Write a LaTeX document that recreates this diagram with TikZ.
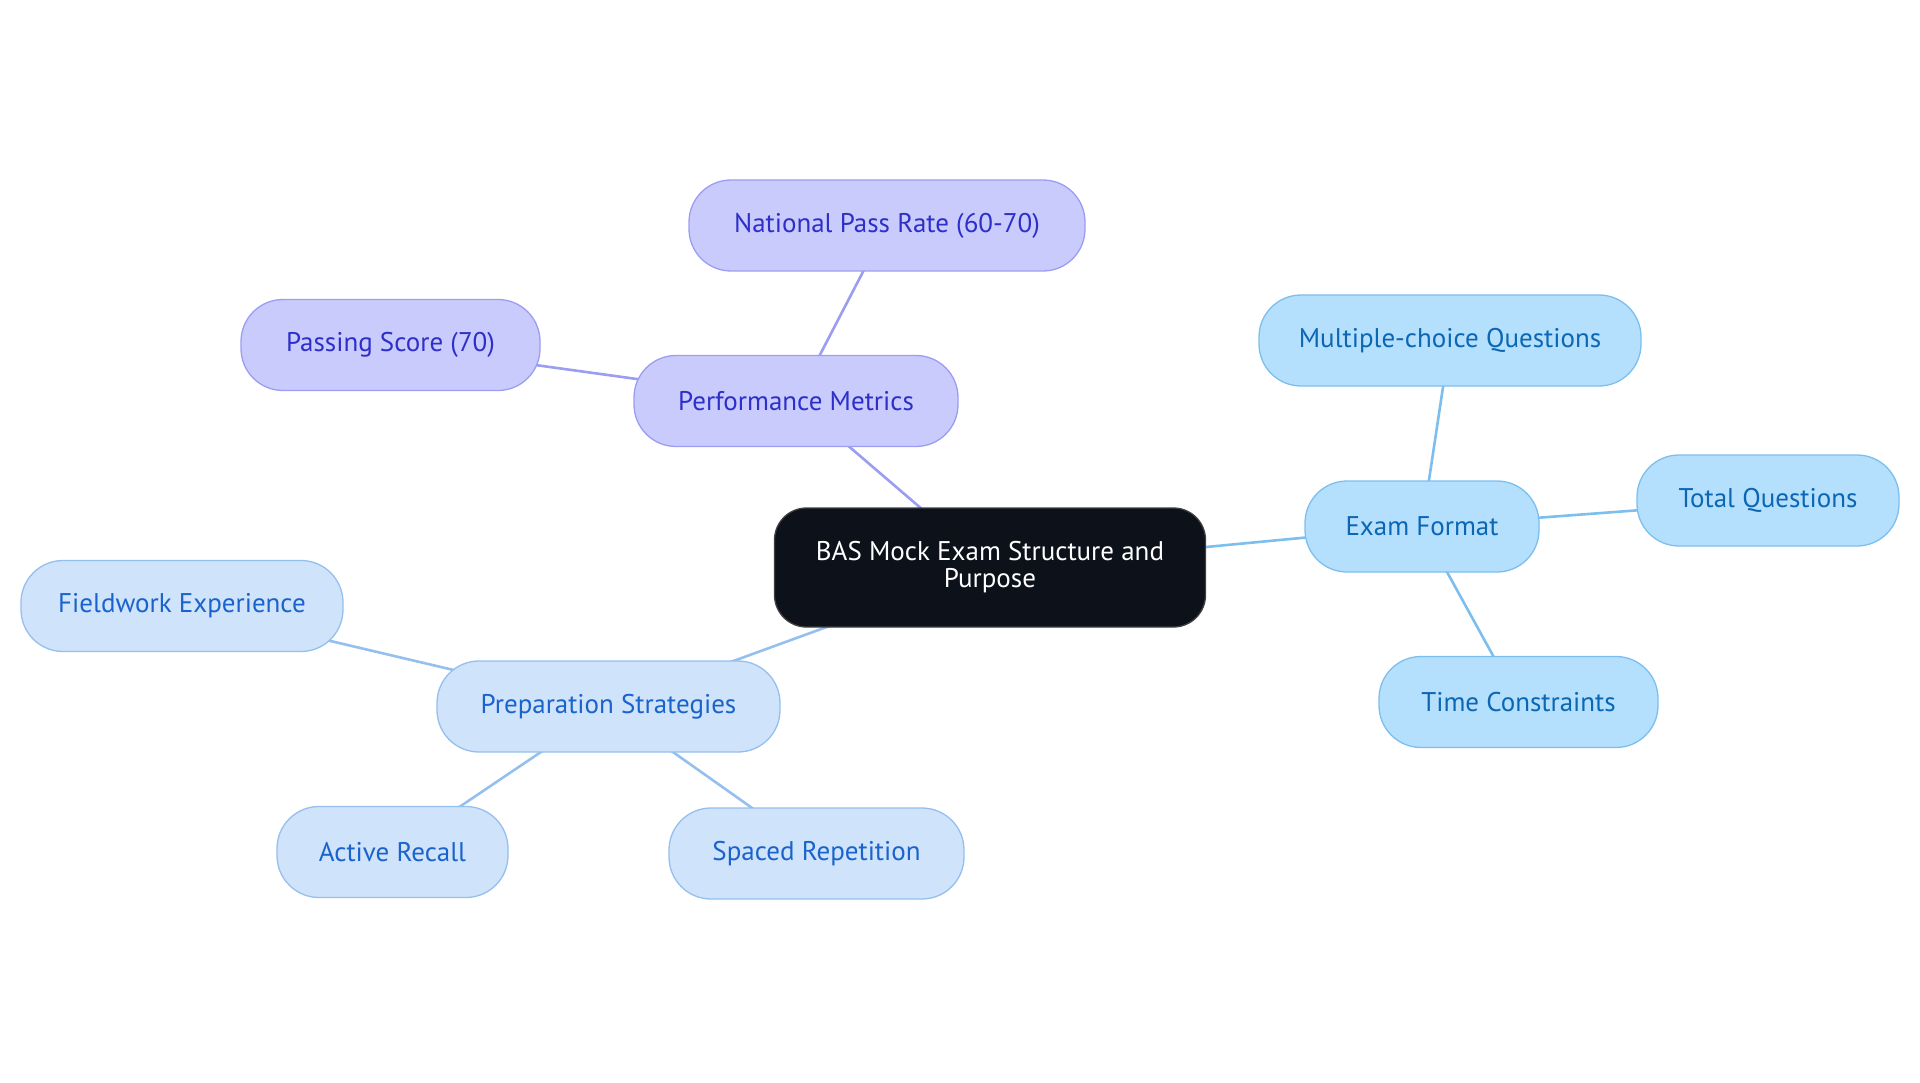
\documentclass[tikz,border=0pt]{standalone}
\usepackage{fontspec}
\setmainfont{PT Sans}
\usetikzlibrary{backgrounds}
\definecolor{rootfill}{HTML}{0C111A}
\definecolor{purpfill}{HTML}{C9CBFD}
\definecolor{purpdraw}{HTML}{9B9DF2}
\definecolor{purptext}{HTML}{2D2FC8}
\definecolor{skyfill}{HTML}{B4DFFD}
\definecolor{skydraw}{HTML}{7CBFEF}
\definecolor{skytext}{HTML}{0B67B3}
\definecolor{palefill}{HTML}{CFE3FA}
\definecolor{paledraw}{HTML}{95BFEE}
\definecolor{paletext}{HTML}{1A63CC}
\newcommand{\mapfont}{\fontsize{27}{27}\selectfont}

\begin{document}
\begin{tikzpicture}[x=1pt, y=-1pt,
  topic/.style={draw, line width=1.3pt, rounded corners=42pt, minimum height=91pt,
    inner sep=0pt, font=\mapfont, align=center},
  root/.style={topic, fill=rootfill, draw=black!75, text=white, rounded corners=32pt,
    minimum height=119pt},
  purp/.style={topic, fill=purpfill, draw=purpdraw, text=purptext},
  sky/.style={topic, fill=skyfill, draw=skydraw, text=skytext},
  pale/.style={topic, fill=palefill, draw=paledraw, text=paletext},
  link/.style={line width=2.6pt}]
\useasboundingbox (0,0) rectangle (1920,1083);
\node[root, minimum width=431] (bas) at (990,567.5) {BAS Mock Exam Structure and\\Purpose};
\node[purp, minimum width=324] (perf) at (796,401) {Performance Metrics};
\node[purp, minimum width=396] (natl) at (887,225.5) {National Pass Rate (60-70)};
\node[purp, minimum width=299] (pass) at (390.5,345) {Passing Score (70)};
\node[sky, minimum width=234] (fmt) at (1422,526.5) {Exam Format};
\node[sky, minimum width=382] (mcq) at (1450,340.5) {Multiple-choice Questions};
\node[sky, minimum width=262] (total) at (1768,500.5) {Total Questions};
\node[sky, minimum width=279] (time) at (1518.5,702) {Time Constraints};
\node[pale, minimum width=343] (prep) at (608.5,706.5) {Preparation Strategies};
\node[pale, minimum width=322] (field) at (182,606) {Fieldwork Experience};
\node[pale, minimum width=231] (recall) at (392.5,852) {Active Recall};
\node[pale, minimum width=295] (spaced) at (816.5,853.5) {Spaced Repetition};
\begin{pgfonlayer}{background}
\draw[link, purpdraw] (bas.center) -- (perf.center);
\draw[link, purpdraw] (perf.center) -- (natl.center);
\draw[link, purpdraw] (perf.center) -- (pass.center);
\draw[link, skydraw] (bas.center) -- (fmt.center);
\draw[link, skydraw] (fmt.center) -- (mcq.center);
\draw[link, skydraw] (fmt.center) -- (total.center);
\draw[link, skydraw] (fmt.center) -- (time.center);
\draw[link, paledraw] (bas.center) -- (prep.center);
\draw[link, paledraw] (prep.center) -- (field.center);
\draw[link, paledraw] (prep.center) -- (recall.center);
\draw[link, paledraw] (prep.center) -- (spaced.center);
\end{pgfonlayer}
\end{tikzpicture}
\end{document}
